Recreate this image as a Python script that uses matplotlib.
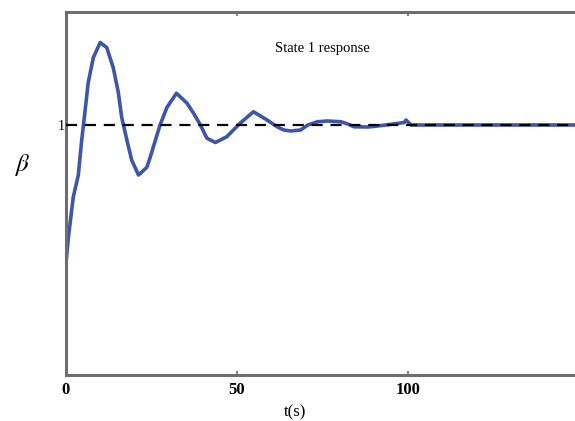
import matplotlib
matplotlib.use("Agg")
import matplotlib.pyplot as plt

# values
t = [0.0, 0.7, 2.1, 3.6, 4.6, 5.6, 6.5, 8.0, 10.0, 11.9, 13.8, 15.3, 16.3,
     17.8, 19.2, 21.2, 23.6, 24.6, 27.5, 29.5, 32.3, 35.4, 37.3, 39.3, 41.2,
     43.7, 47.0, 50.9, 54.8, 58.8, 61.7, 63.7, 65.7, 68.6, 70.7, 73.5, 76.5,
     80.4, 82.4, 84.2, 88.3, 91.1, 93.5, 98.9, 99.4, 100.9, 150.0]
beta = [0.45, 0.55, 0.71, 0.80, 0.94, 1.06, 1.17, 1.27, 1.33, 1.31, 1.23, 1.13, 1.03,
        0.94, 0.86, 0.80, 0.83, 0.87, 1.0, 1.07, 1.127, 1.087, 1.047, 1.0, 0.947,
        0.93, 0.953, 1.007, 1.053, 1.02, 0.993, 0.98, 0.976, 0.98, 1.0, 1.013, 1.016,
        1.013, 1.004, 0.993, 0.992, 0.996, 1.0, 1.01, 1.02, 1.0, 1.0]
ref_level = 1.0
xticks = [0, 50, 100]

plt.rcParams['font.family'] = ['Liberation Serif', 'DejaVu Serif']
plt.rcParams['mathtext.fontset'] = 'stix'

fig = plt.figure(figsize=(5.75, 4.21), dpi=100)
ax = fig.add_axes([66/575, 46/421, 513/575, 363/421])

ax.plot(t, beta, color='#3d56a8', lw=2.6, zorder=2)
ax.axhline(ref_level, color='black', lw=1.6, dashes=(5, 3.5), zorder=3)

ax.set_xlim(0, 150)
ax.set_ylim(0, 1.452)

ax.set_xticks(xticks)
ax.set_xticklabels([str(v) for v in xticks], fontweight='bold', fontsize=12)
ax.set_yticks([ref_level])
ax.set_yticklabels(['1'], fontsize=10)
ax.tick_params(direction='in', length=3, width=1.2, colors='#707070', pad=3,
               top=True, right=False)
ax.tick_params(axis='x', labelcolor='black', pad=5)
ax.tick_params(axis='y', labelcolor='black', pad=1)

for s in ax.spines.values():
    s.set_color('#6e6e6e')
    s.set_linewidth(2.2)

ax.text(0.5, 0.9, 'State 1 response', transform=ax.transAxes, fontsize=10.5,
        ha='center', va='center')
fig.text(295/575, 1 - 412/421, 't(s)', fontsize=12, ha='center', va='center')
fig.text(22/575, 1 - 165/421, r'$\beta$', fontsize=18, ha='center', va='center')

fig.savefig('out.png', dpi=100)
